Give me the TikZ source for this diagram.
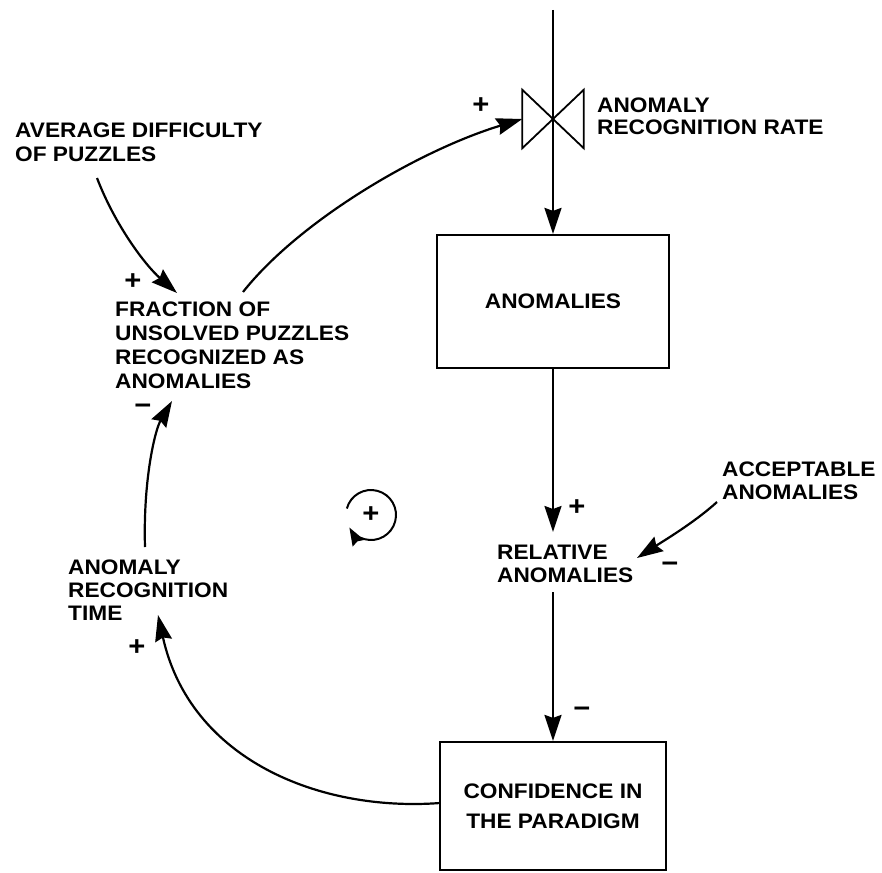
\documentclass[tikz,border=0pt]{standalone}
\usepackage{fontspec}
\setmainfont{Liberation Sans}[FakeStretch=1.08]
\usetikzlibrary{arrows.meta}
\begin{document}
\begin{tikzpicture}[x=1pt,y=-1pt,
  txt/.style={font=\fontsize{21}{24}\selectfont\bfseries},
  lbl/.style={txt, inner sep=0pt, anchor=north west, align=left},
  stock/.style={txt, draw, line width=2.2pt, inner sep=0pt, align=center},
  arr/.style={line width=2.2pt, -{Stealth[length=26pt,width=17pt,inset=3pt]}},
  sgn/.style={font=\fontsize{27}{27}\selectfont\bfseries, inner sep=0pt},
  valveshape/.style={inner sep=0pt, minimum width=61pt, minimum height=58pt}]
\useasboundingbox (0,0) rectangle (882,872);

% nodes
\node[lbl] (avg) at (15,123) {AVERAGE DIFFICULTY\\OF PUZZLES};
\node[lbl] (frac) at (115,302) {FRACTION OF\\UNSOLVED PUZZLES\\RECOGNIZED AS\\ANOMALIES};
\node[lbl, font=\fontsize{21}{23}\selectfont\bfseries] (art) at (68,560) {ANOMALY\\RECOGNITION\\TIME};
\node[lbl, font=\fontsize{21}{22}\selectfont\bfseries] (vlab) at (597,98) {ANOMALY\\RECOGNITION RATE};
\node[stock, minimum width=232pt, minimum height=133pt] (anom) at (553,301.5) {ANOMALIES};
\node[lbl, font=\fontsize{21}{23}\selectfont\bfseries] (rel) at (497,545) {RELATIVE\\ANOMALIES};
\node[lbl, font=\fontsize{21}{23}\selectfont\bfseries] (acc) at (722,462) {ACCEPTABLE\\ANOMALIES};
\node[stock, minimum width=226pt, minimum height=128pt, font=\fontsize{21}{30}\selectfont\bfseries] (conf) at (553,806) {CONFIDENCE IN\\THE PARADIGM};
\node[valveshape] (valve) at (553,119) {};

% free ends
\coordinate (src) at (553,10);
\coordinate (avgOut) at (97,178);
\coordinate (fracIn) at (177,293);
\coordinate (fracOut) at (243,292);
\coordinate (fracIn2) at (172,401);
\coordinate (artOut) at (145,547);
\coordinate (artIn) at (158,615);
\coordinate (confOut) at (440,803);
\coordinate (accOut) at (717,502);
\coordinate (relIn) at (637,558);

% flow through valve
\draw[arr] (src) -- (anom.north);
\draw[line width=1.8pt] (valve.north west) -- (valve.south east) -- (valve.north east)
      -- (valve.south west) -- cycle;

% connectors
\draw[arr, shorten >=13pt] (anom.south) -- (anom.south |- rel.north);
\draw[arr, shorten <=9pt] (rel.south -| conf.north) -- (conf.north);
\draw[arr] (avgOut) .. controls (115,225) and (145,265) .. (fracIn);
\draw[arr] (fracOut) .. controls (300,220) and (420,150) .. (valve.west);
\draw[arr] (confOut) .. controls (320,812) and (190,760) .. (artIn);
\draw[arr] (artOut) .. controls (143,480) and (155,430) .. (fracIn2);
\draw[arr] (accOut) .. controls (695,522) and (665,540) .. (relIn);

% loop symbol
\coordinate (loop) at (371,515);
\draw[line width=2pt, -{Stealth[length=18pt,width=13pt,inset=2pt]}] (loop) ++(-165:25) arc[start angle=-165, end angle=150, radius=25];
\node[sgn] (loopsign) at (loop) {+};

% polarity signs
\node[sgn] (s1) at (481,106) {+};
\node[sgn] (s2) at (133,282) {+};
\node[sgn] (s3) at (143,409) {−};
\node[sgn] (s4) at (137,648) {+};
\node[sgn] (s5) at (577,508) {+};
\node[sgn] (s6) at (670,567) {−};
\node[sgn] (s7) at (582,712) {−};
\end{tikzpicture}
\end{document}
